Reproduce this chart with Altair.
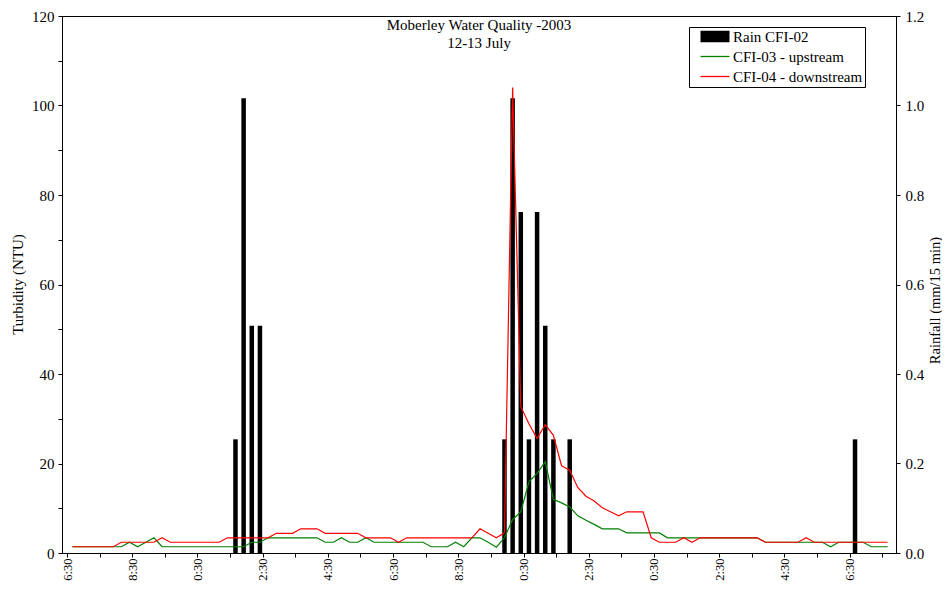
import altair as alt
import pandas as pd

# ---------------- data ----------------
START_HOUR = 6 + 40 / 60      # first reading, 12 July 06:40
STEP_HOURS = 0.25             # 15-minute record

upstream = [  # CFI-03 turbidity (NTU)
    1.4, 1.4, 1.4, 1.4, 1.4, 1.4, 1.4, 2.4, 1.4, 2.4,
    3.4, 1.4, 1.4, 1.4, 1.4, 1.4, 1.4, 1.4, 1.4, 1.4,
    1.4, 1.4, 2.4, 2.4, 3.4, 3.4, 3.4, 3.4, 3.4, 3.4,
    3.4, 2.4, 2.4, 3.4, 2.4, 2.4, 3.4, 2.4, 2.4, 2.4,
    2.4, 2.4, 2.4, 2.4, 1.4, 1.4, 1.4, 2.4, 1.4, 3.4,
    3.4, 2.4, 1.3, 3.4, 7.5, 9.2, 15.9, 17.8, 20.4, 12.0,
    11.2, 10.3, 8.3, 7.3, 6.4, 5.4, 5.4, 5.4, 4.5, 4.5,
    4.5, 4.5, 4.5, 3.4, 3.4, 3.4, 3.4, 3.4, 3.4, 3.4,
    3.4, 3.4, 3.4, 3.4, 3.4, 2.4, 2.4, 2.4, 2.4, 2.4,
    2.4, 2.4, 2.4, 1.4, 2.4, 2.4, 2.4, 2.4, 1.4, 1.4,
    1.4,
]
downstream = [  # CFI-04 turbidity (NTU)
    1.4, 1.4, 1.4, 1.4, 1.4, 1.4, 2.4, 2.4, 2.4, 2.4,
    2.4, 3.4, 2.4, 2.4, 2.4, 2.4, 2.4, 2.4, 2.4, 3.4,
    3.4, 3.4, 3.4, 3.4, 3.4, 4.4, 4.4, 4.4, 5.4, 5.4,
    5.4, 4.4, 4.4, 4.4, 4.4, 4.4, 3.4, 3.4, 3.4, 3.4,
    2.4, 3.4, 3.4, 3.4, 3.4, 3.4, 3.4, 3.4, 3.4, 3.4,
    5.4, 4.4, 3.4, 4.5, 104.0, 32.7, 28.9, 25.6, 28.7, 26.3,
    19.5, 18.5, 14.6, 12.7, 11.6, 10.1, 9.2, 8.3, 9.2, 9.2,
    9.2, 3.4, 2.4, 2.4, 2.4, 3.4, 2.4, 3.4, 3.4, 3.4,
    3.4, 3.4, 3.4, 3.4, 3.4, 2.4, 2.4, 2.4, 2.4, 2.4,
    3.4, 2.4, 2.4, 2.4, 2.4, 2.4, 2.4, 2.4, 2.4, 2.4,
    2.4,
]
rain_step = [20, 21, 22, 23, 53, 54, 55, 56, 57, 58, 59, 61, 96]
rain_mm = [0.254, 1.016, 0.508, 0.508, 0.254, 1.016, 0.762, 0.254,
           0.762, 0.508, 0.254, 0.254, 0.254]

series_names = ["Rain CFI-02", "CFI-03 - upstream", "CFI-04 - downstream"]
series_colors = ["#000000", "#008000", "#ff0000"]

tick_hours = [6.5 + k for k in range(26)]
label_hours = [6.5, 8.5, 10.5, 12.5, 14.5, 16.5, 18.5, 20.5, 22.5,
               24.5, 26.5, 28.5, 30.5]
label_text = ["6:30", "8:30", "0:30", "2:30", "4:30", "6:30", "8:30",
              "0:30", "2:30", "0:30", "2:30", "4:30", "6:30"]

title_lines = ["Moberley Water Quality -2003", "12-13 July"]

# ---------------- tables ----------------
hours = [START_HOUR + i * STEP_HOURS for i in range(len(upstream))]
df = pd.DataFrame({"t": hours, "up": upstream, "down": downstream})
rain_df = pd.DataFrame({"t": [START_HOUR + s * STEP_HOURS for s in rain_step],
                        "rain": rain_mm})
legend_df = pd.DataFrame({"series": series_names})

FONT = "Liberation Serif"

hv = ",".join(str(h) for h in label_hours)
ht = ",".join("'" + t + "'" for t in label_text)
x_label_expr = (f"indexof([{hv}], datum.value) >= 0 ? "
                f"[{ht}][indexof([{hv}], datum.value)] : ''")

x_scale = alt.Scale(domain=[6.5, 31.77], nice=False, zero=False)
x_axis = alt.Axis(values=tick_hours, labelExpr=x_label_expr, labelAngle=270,
                  labelPadding=1, tickSize=4, title=None, grid=False,
                  labelFontSize=12.5)
x_enc = alt.X("t:Q", scale=x_scale, axis=x_axis)

y_left = alt.Y("up:Q", scale=alt.Scale(domain=[0, 120], nice=False),
               axis=alt.Axis(values=list(range(0, 121, 5)),
                             labelExpr="datum.value % 20 == 0 ? datum.label : ''",
                             title="Turbidity (NTU)", titleX=-45, titleY=268,
                             titleAngle=270, titleBaseline="middle",
                             titleAlign="center", tickSize=4, labelPadding=4,
                             grid=False, orient="left"))

bars = alt.Chart(rain_df).mark_bar(size=4.5, color="black").encode(
    x=x_enc,
    y=alt.Y("rain:Q", scale=alt.Scale(domain=[0, 1.2], nice=False),
            axis=alt.Axis(values=[0, 0.2, 0.4, 0.6, 0.8, 1.0, 1.2], format=".1f",
                          title="Rainfall (mm/15 min)", orient="right",
                          titleX=39, titleY=284, titleAngle=270,
                          titleBaseline="middle", titleAlign="center",
                          titleFontSize=14.5,
                          tickSize=4, labelPadding=5, grid=False)),
)

line_up = alt.Chart(df).mark_line(color=series_colors[1], strokeWidth=1.2).encode(
    x=x_enc, y=y_left)
line_down = alt.Chart(df).mark_line(color=series_colors[2], strokeWidth=1.2).encode(
    x=x_enc, y=alt.Y("down:Q"))

rain_path = "".join(f"M-1,{y / 4:.2f}H6.25" for y in range(-5, 6))
line_path = "M-1,0H6.25"

leg = alt.Legend(orient="none", legendX=627, legendY=11, title=None,
                 strokeColor="black", fillColor="white", padding=2,
                 labelFont=FONT, labelFontSize=15, labelColor="black",
                 symbolSize=64, symbolStrokeWidth=1.3, symbolOpacity=1,
                 symbolOffset=6, labelOffset=21, rowPadding=4)

legend_layer = alt.Chart(legend_df).mark_point(filled=False, opacity=0).encode(
    color=alt.Color("series:N", scale=alt.Scale(domain=series_names,
                                                range=series_colors), legend=leg),
    shape=alt.Shape("series:N", scale=alt.Scale(domain=series_names,
                                                range=[rain_path, line_path, line_path]),
                    legend=leg),
)

lines = alt.layer(line_up, line_down)

chart = alt.layer(bars, lines, legend_layer).resolve_scale(
    y="independent"
).properties(
    width=834, height=537,
    autosize=alt.AutoSizeParams(type="none"),
    padding={"left": 54, "top": 8, "right": 46, "bottom": 29},
    title=alt.Title(text=title_lines, font=FONT, fontSize=15, fontWeight="normal",
                    color="black", anchor="middle", offset=-42, lineHeight=18),
).configure_view(
    stroke="black", strokeWidth=1
).configure_axis(
    labelFont=FONT, titleFont=FONT, labelFontSize=15, titleFontSize=15,
    titleFontWeight="normal", labelColor="black", titleColor="black",
    domainColor="black", tickColor="black", domainWidth=1, tickWidth=1
)

chart.save("out.html", embed_options={"renderer": "svg", "actions": False})
